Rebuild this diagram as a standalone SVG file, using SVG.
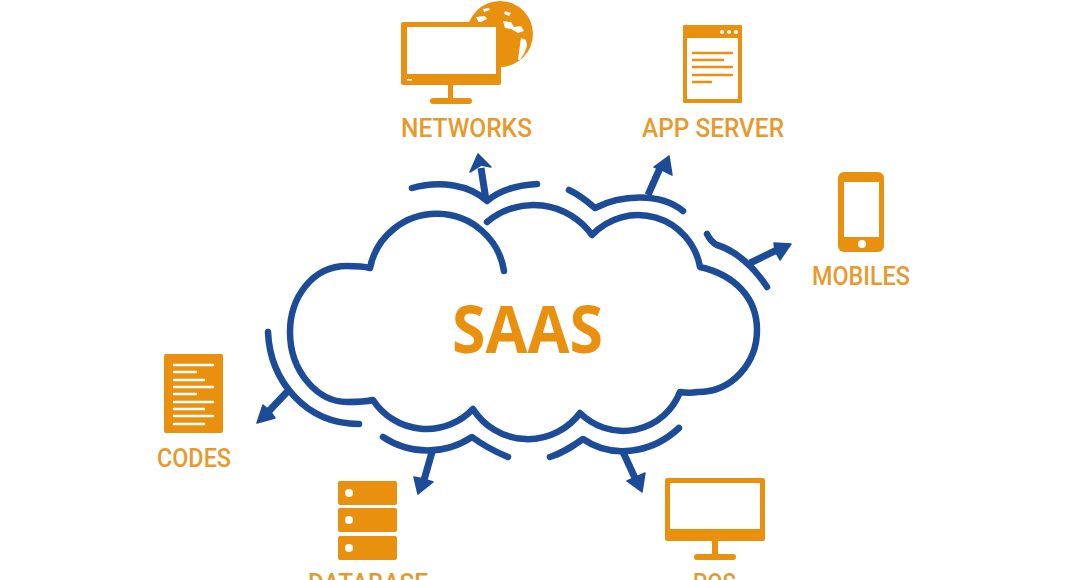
<svg xmlns="http://www.w3.org/2000/svg" width="1068" height="580" viewBox="0 0 1068 580">
<style>
.o{fill:#EA900F}
.w{fill:#fff}
.t{font-family:"Roboto","Liberation Sans",sans-serif;font-size:26px;font-weight:500;fill:#E69A2E}
.b{fill:none;stroke:#1C4B97;stroke-width:6.5;stroke-linecap:round;stroke-linejoin:round}
.s{fill:none;stroke:#1C4B97;stroke-width:7}
.h{fill:#1C4B97;stroke:#1C4B97;stroke-width:1.5;stroke-linejoin:round}
.l{stroke:#fff;stroke-width:2.5;stroke-linecap:round}
.ol{stroke:#EA900F;stroke-width:2.5;stroke-linecap:round}
</style>
<rect width="1068" height="580" fill="#fff"/>
<g id="cloud">
<path class="b" d="M504 271A68 67 0 0 0 370 268C362 266 355 266 347 266C312 266 290 298 290 332C290 372 318 402 347 402C356 402 365 402 373 400A64 64 0 0 0 473 409A65 65 0 0 0 580 413A61 61 0 0 0 680 392C686 393 692 393 698 392C733 392 757 362 757 330C757 298 735 275 700 267A63 63 0 0 0 592 235A72 72 0 0 0 487 222"/>
<text x="452" y="353" textLength="151" lengthAdjust="spacingAndGlyphs" style="font-family:'Open Sans','Liberation Sans',sans-serif;font-size:67px;font-weight:700;fill:#EA900F">SAAS</text>
</g>
<g id="connectors">
<path class="b" d="M412 188C440 180 470 185 487 201C500 190 518 185 537 184"/>
<path class="s" d="M486 200L481 168"/>
<polygon class="h" points="478,154 491,167 481,165 470,172"/>
<path class="b" d="M569 190C580 195 588 202 595 208C620 195 660 192 683 211"/>
<path class="s" d="M648 195L660 168"/>
<polygon class="h" points="669,156 672,175 662,170 654,167"/>
<path class="b" d="M707 234C710 240 713 243 717 245C735 250 755 268 767 287"/>
<path class="s" d="M750 263L777 250"/>
<polygon class="h" points="791,244 780,260 775,251 774,243"/>
<path class="b" d="M268 332C270 380 305 424 359 424"/>
<path class="s" d="M287 392L268 412"/>
<polygon class="h" points="257,423 263,405 270,411 275,418"/>
<path class="b" d="M383 437C410 455 445 455 472 437C484 446 496 452 508 457"/>
<path class="s" d="M432 452L424 480"/>
<polygon class="h" points="418,494 414,477 424,479 433,482"/>
<path class="b" d="M550 457C563 453 573 446 583 439C610 458 650 455 679 428"/>
<path class="s" d="M623 452L635 478"/>
<polygon class="h" points="642,492 627,481 636,477 645,473"/>
</g>
<g id="networks">
<circle class="o" cx="500" cy="34" r="33"/>
<path class="w" d="M476 17l9-1 2 3-8 4zM483 9l6-1 1 2-6 2zM505 11l6 2-2 3-5-2zM503 21l8 1 3 5 7-1 3 5-6 2-7-4-6-1z"/>
<path class="w" d="M521 38l5 2 1 6-3 8-4 6-2 0 1-8z"/>
<rect class="o" x="401" y="22" width="100" height="63" rx="2"/>
<rect class="w" x="407" y="27" width="89" height="47"/>
<rect class="w" x="407" y="79" width="5" height="1.5"/>
<rect class="o" x="448" y="85" width="5" height="15"/>
<rect class="o" x="430" y="98" width="42" height="6" rx="3"/>
<text class="t" x="401" y="137" textLength="131" lengthAdjust="spacingAndGlyphs">NETWORKS</text>
</g>
<g id="app-server">
<rect class="o" x="683" y="25" width="59" height="78" rx="1"/>
<rect class="w" x="687" y="38" width="51" height="61"/>
<circle class="w" cx="722" cy="32" r="2"/><circle class="w" cx="729" cy="32" r="2"/><circle class="w" cx="736" cy="32" r="2"/>
<path class="ol" d="M693 53H732M693 60H723M693 67H732M693 75H732M693 82H711"/>
<text class="t" x="642" y="137" textLength="142" lengthAdjust="spacingAndGlyphs">APP SERVER</text>
</g>
<g id="mobiles">
<rect class="o" x="838" y="172" width="46" height="80" rx="6"/>
<rect class="w" x="844" y="182" width="35" height="55"/>
<circle class="w" cx="862" cy="244" r="4"/>
<text class="t" x="812" y="285" textLength="98" lengthAdjust="spacingAndGlyphs">MOBILES</text>
</g>
<g id="codes">
<rect class="o" x="164" y="354" width="59" height="79" rx="2"/>
<path class="l" d="M174 365H213M174 372H196M174 380H204M174 387H213M174 394H196M174 402H213M174 409H204M174 416H213M174 424H204"/>
<text class="t" x="157" y="467" textLength="74" lengthAdjust="spacingAndGlyphs">CODES</text>
</g>
<g id="database">
<rect class="o" x="338" y="481" width="59" height="24" rx="2"/>
<rect class="o" x="338" y="508" width="59" height="24" rx="2"/>
<rect class="o" x="338" y="536" width="59" height="24" rx="2"/>
<circle class="w" cx="349" cy="493" r="4"/><circle class="w" cx="349" cy="520" r="4"/><circle class="w" cx="349" cy="548" r="4"/>
<text class="t" x="308" y="592" textLength="120" lengthAdjust="spacingAndGlyphs">DATABASE</text>
</g>
<g id="pos">
<rect class="o" x="665" y="478" width="100" height="63" rx="2"/>
<rect class="w" x="670" y="483" width="90" height="46"/>
<rect class="o" x="712" y="541" width="6" height="15"/>
<rect class="o" x="694" y="554" width="42" height="6" rx="3"/>
<text class="t" x="693" y="592" textLength="43" lengthAdjust="spacingAndGlyphs">POS</text>
</g>
</svg>
